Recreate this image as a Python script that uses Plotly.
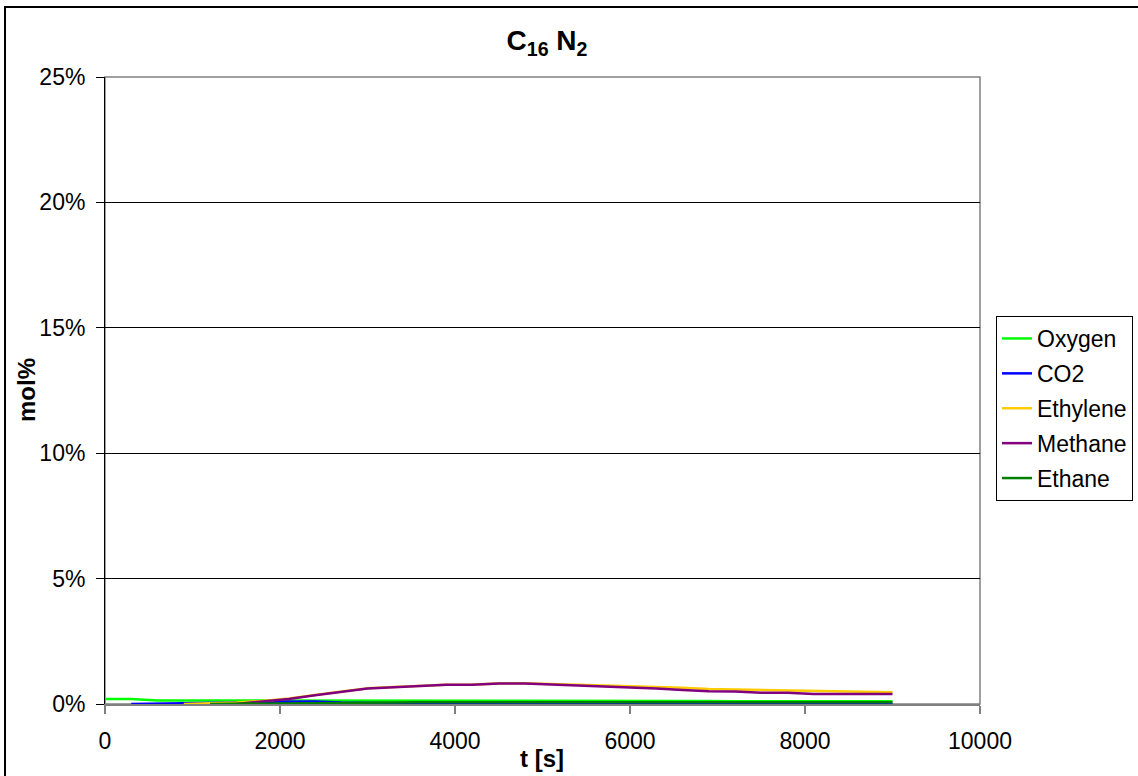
import plotly.graph_objects as go

t = [0, 300, 600, 900, 1200, 1500, 1800, 2100, 2400, 2700, 3000, 3300, 3600, 3900, 4200,
     4500, 4800, 5100, 5400, 5700, 6000, 6300, 6600, 6900, 7200, 7500, 7800, 8100, 8400, 8700, 9000]

oxygen = [0.20, 0.20, 0.14, 0.14, 0.14, 0.14, 0.15, 0.15, 0.15, 0.15, 0.15, 0.15, 0.15, 0.15, 0.15,
          0.15, 0.15, 0.15, 0.15, 0.15, 0.15, 0.15, 0.15, 0.12, 0.11, 0.11, 0.11, 0.11, 0.11, 0.11, 0.11]
co2 = [None, 0.00, 0.01, 0.02, 0.04, 0.06, 0.09, 0.11, 0.10, 0.06, 0.03, 0.03, 0.03, 0.03, 0.03,
       0.03, 0.03, 0.03, 0.03, 0.03, 0.03, 0.03, 0.02, 0.00, 0.00, 0.00, 0.00, 0.00, 0.00, 0.00, 0.00]
ethylene = [None, None, None, 0.00, 0.02, 0.06, 0.12, 0.22, 0.36, 0.49, 0.63, 0.68, 0.73, 0.77, 0.78,
            0.82, 0.83, 0.80, 0.78, 0.75, 0.72, 0.70, 0.65, 0.60, 0.58, 0.56, 0.56, 0.51, 0.50, 0.49, 0.47]
methane = [None, None, None, None, None, 0.00, 0.10, 0.20, 0.35, 0.48, 0.62, 0.67, 0.72, 0.77, 0.77,
           0.82, 0.82, 0.78, 0.76, 0.71, 0.66, 0.62, 0.56, 0.51, 0.50, 0.45, 0.45, 0.40, 0.40, 0.40, 0.40]
ethane = [None, None, None, None, 0.00, 0.01, 0.03, 0.05, 0.06, 0.07, 0.07, 0.07, 0.07, 0.07, 0.07,
          0.07, 0.07, 0.07, 0.07, 0.07, 0.07, 0.07, 0.07, 0.07, 0.07, 0.07, 0.07, 0.07, 0.07, 0.07, 0.07]

series_names = ["Oxygen", "CO2", "Ethylene", "Methane", "Ethane"]
series_values = [oxygen, co2, ethylene, methane, ethane]
series_colors = ["#00FF00", "#0000FF", "#FFCC00", "#800080", "#008000"]

x_title = "t [s]"
y_title = "mol%"
chart_title = "C<sub>16</sub> N<sub>2</sub>"

FONT = "Liberation Sans, Arial, sans-serif"

fig = go.Figure()
for name, vals, col in zip(series_names, series_values, series_colors):
    fig.add_trace(go.Scatter(x=t, y=vals, mode="lines", name=name, legendgroup=name,
                             line=dict(color=col, width=2.5), connectgaps=False))

W, H = 1138, 776
L, R, T, B = 105, 980, 77, 704
pw, ph = R - L, B - T

def px(x):
    return (x - L) / pw

def py(y):
    return (B - y) / ph

fig.update_layout(
    width=W, height=H,
    margin=dict(l=L, r=W - R, t=T, b=H - B, autoexpand=False),
    paper_bgcolor="white", plot_bgcolor="white",
    font=dict(family=FONT, size=23, color="black"),
    title=dict(text="<b>" + chart_title + "</b>", x=px(547), xref="paper", xanchor="center",
               y=1 - 40 / H, yanchor="middle", font=dict(size=28, color="black")),
    showlegend=True,
    legend=dict(x=px(996), y=py(316), xanchor="left", yanchor="top",
                bordercolor="black", borderwidth=1, bgcolor="white",
                font=dict(size=23), tracegroupgap=2, traceorder="grouped"),
    xaxis=dict(range=[0, 10000], dtick=2000, tick0=0, tickformat="d", showgrid=False, zeroline=False,
               showline=True, linecolor="#808080", linewidth=1.5,
               ticks="outside", ticklen=8, tickcolor="#808080", tickwidth=1.5,
               ticklabelstandoff=8, layer="below traces"),
    yaxis=dict(range=[0, 25], dtick=5, tick0=0, ticksuffix="%", showgrid=True,
               gridcolor="black", gridwidth=1, zeroline=False,
               showline=True, linecolor="black", linewidth=1,
               ticks="outside", ticklen=8, tickcolor="black", tickwidth=1,
               ticklabelstandoff=6, layer="below traces"),
    annotations=[
        dict(text="<b>" + x_title + "</b>", xref="paper", yref="paper", x=px(542), y=py(758),
             xanchor="center", yanchor="middle", showarrow=False, font=dict(size=24)),
        dict(text="<b>" + y_title + "</b>", xref="paper", yref="paper", x=px(26), y=py(390),
             xanchor="center", yanchor="middle", textangle=-90, showarrow=False, font=dict(size=24)),
    ],
    shapes=[
        dict(type="rect", xref="paper", yref="paper", x0=0, x1=1, y0=0, y1=1,
             line=dict(color="#808080", width=1.5), layer="below"),
        dict(type="rect", xref="paper", yref="paper", x0=px(5), x1=px(1300),
             y0=py(7), y1=py(900), line=dict(color="black", width=2), layer="below"),
    ],
)

fig.write_html("out.html")
